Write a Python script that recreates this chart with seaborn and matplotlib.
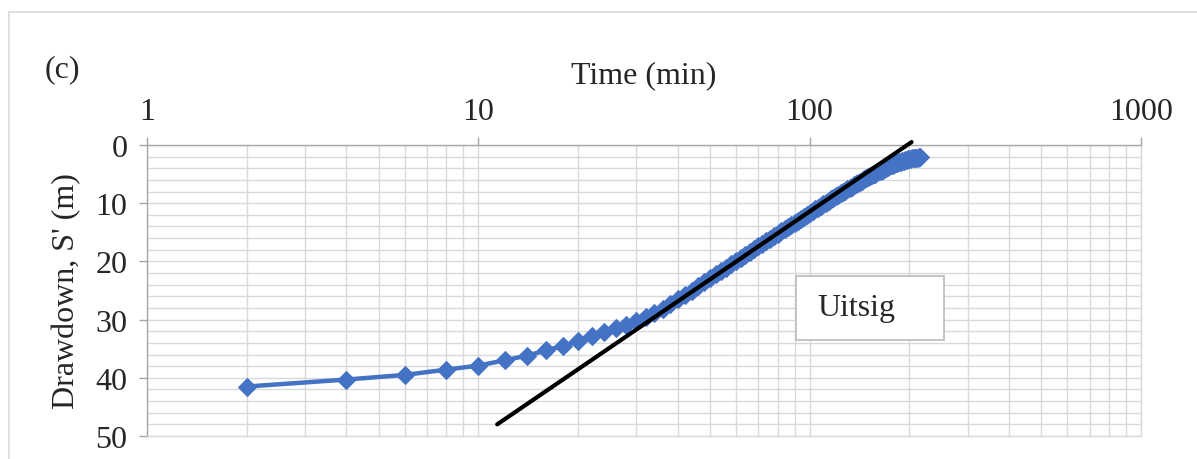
import matplotlib
matplotlib.use("Agg")
import matplotlib.pyplot as plt
import matplotlib.ticker as mticker
from matplotlib.patches import Rectangle
import seaborn as sns
import pandas as pd

# Recovery data (time in minutes, residual drawdown in m)
time_min = [
    2, 4, 6, 8, 10, 12, 14, 16, 18, 20,
    22, 24, 26, 28, 30, 32, 34, 36, 38, 40,
    42, 44, 46, 48, 50, 52, 54, 56, 58, 60,
    62, 64, 66, 68, 70, 72, 74, 76, 78, 80,
    82, 84, 86, 88, 90, 92, 94, 96, 98, 100,
    102, 104, 106, 108, 110, 112, 114, 116, 118, 120,
    122, 124, 126, 128, 130, 132, 134, 136, 138, 140,
    142, 144, 146, 148, 150, 152, 154, 156, 158, 160,
    162, 164, 166, 168, 170, 172, 174, 176, 178, 180,
    182, 184, 186, 188, 190, 192, 194, 196, 198, 200,
    202, 204, 206, 208, 210, 212, 214, 216,
]
drawdown_m = [
    41.5, 40.3, 39.5, 38.6, 37.9, 37.0, 36.2, 35.3, 34.5, 33.7,
    32.9, 32.2, 31.5, 30.9, 30.2, 29.55, 28.85, 28.1, 27.3, 26.5,
    25.75, 25.0, 24.25, 23.55, 22.9, 22.25, 21.65, 21.05, 20.45, 19.9,
    19.4, 18.85, 18.35, 17.9, 17.4, 16.95, 16.5, 16.1, 15.65, 15.25,
    14.85, 14.45, 14.1, 13.75, 13.35, 13.0, 12.7, 12.35, 12.0, 11.7,
    11.4, 11.05, 10.75, 10.5, 10.2, 9.9, 9.6, 9.35, 9.1, 8.8,
    8.55, 8.3, 8.1, 7.85, 7.6, 7.4, 7.15, 6.95, 6.75, 6.5,
    6.3, 6.1, 5.9, 5.7, 5.55, 5.4, 5.2, 5.05, 4.9, 4.7,
    4.55, 4.4, 4.25, 4.1, 3.95, 3.8, 3.65, 3.5, 3.38, 3.26,
    3.15, 3.04, 2.94, 2.85, 2.76, 2.68, 2.6, 2.53, 2.46, 2.4,
    2.35, 2.3, 2.26, 2.22, 2.18, 2.15, 2.12, 2.1,
]

# straight-line fit drawn by hand on the chart
fit_time = [11.4, 203]
fit_drawdown = [48.0, -0.5]

x_ticks = [1, 10, 100, 1000]
y_ticks = [0, 10, 20, 30, 40, 50]

BLUE = "#4472C4"
GRID = "#D9D9D9"
FS = 23

sns.set_style("white")
plt.rcParams['font.family'] = ['Liberation Serif', 'DejaVu Serif']

df = pd.DataFrame({'time': time_min, 'drawdown': drawdown_m})
fit_df = pd.DataFrame({'time': fit_time, 'drawdown': fit_drawdown})

fig = plt.figure(figsize=(11.97, 4.60), dpi=100)
ax = fig.add_axes([147 / 1197, 1 - 437 / 460, 994 / 1197, 291 / 460])

# outer chart frame
fig.patches.append(Rectangle((9 / 1197, -0.1), 1.2, (460 - 13) / 460 + 0.1,
                             transform=fig.transFigure, fill=False,
                             edgecolor=GRID, linewidth=1.2, zorder=0))

sns.lineplot(data=df, x='time', y='drawdown', ax=ax, color=BLUE,
             marker='D', markersize=9, markeredgecolor=BLUE,
             linewidth=3.2, estimator=None, sort=False, zorder=3)
sns.lineplot(data=fit_df, x='time', y='drawdown', ax=ax, color='black',
             linewidth=3.0, estimator=None, zorder=4).lines[-1].set_clip_on(False)

ax.set_xscale('log')
ax.set_xlim(1, 1000)
ax.set_ylim(50, 0)

ax.xaxis.tick_top()
ax.xaxis.set_label_position('top')
ax.set_xticks(x_ticks)
ax.xaxis.set_major_formatter(mticker.FuncFormatter(lambda v, p: f"{v:g}"))
ax.xaxis.set_minor_locator(mticker.LogLocator(base=10, subs=range(2, 10)))
ax.xaxis.set_minor_formatter(mticker.NullFormatter())
ax.set_yticks(y_ticks)
ax.yaxis.set_minor_locator(mticker.MultipleLocator(2))

ax.grid(True, which='both', color=GRID, linewidth=1.0, zorder=0)
ax.set_axisbelow(True)
ax.tick_params(axis='x', which='major', top=True, bottom=False, length=6,
               width=1, color='#A6A6A6', labelsize=FS, pad=8)
ax.tick_params(axis='y', which='major', left=True, length=6, width=1,
               color='#A6A6A6', labelsize=FS, pad=8)
ax.tick_params(which='minor', length=0)

for side in ['left', 'top']:
    ax.spines[side].set_color('#A6A6A6')
    ax.spines[side].set_linewidth(1.0)
for side in ['right', 'bottom']:
    ax.spines[side].set_color(GRID)
    ax.spines[side].set_linewidth(1.0)

ax.set_xlabel('Time (min)', fontsize=FS, labelpad=10)
ax.set_ylabel("Drawdown, S' (m)", fontsize=FS, labelpad=10)

fig.text(45 / 1197, 1 - 70 / 460, '(c)', fontsize=FS, va='center', ha='left')

# "Uitsig" box
ax.add_patch(Rectangle((0.653, 0.330), 0.149, 0.220, transform=ax.transAxes,
                       facecolor='white', edgecolor='#BFBFBF', linewidth=1.3,
                       zorder=5))
ax.text(0.674, 0.44, 'Uitsig', transform=ax.transAxes, fontsize=FS,
        va='center', ha='left', zorder=6)

fig.savefig('out.png', dpi=100)
